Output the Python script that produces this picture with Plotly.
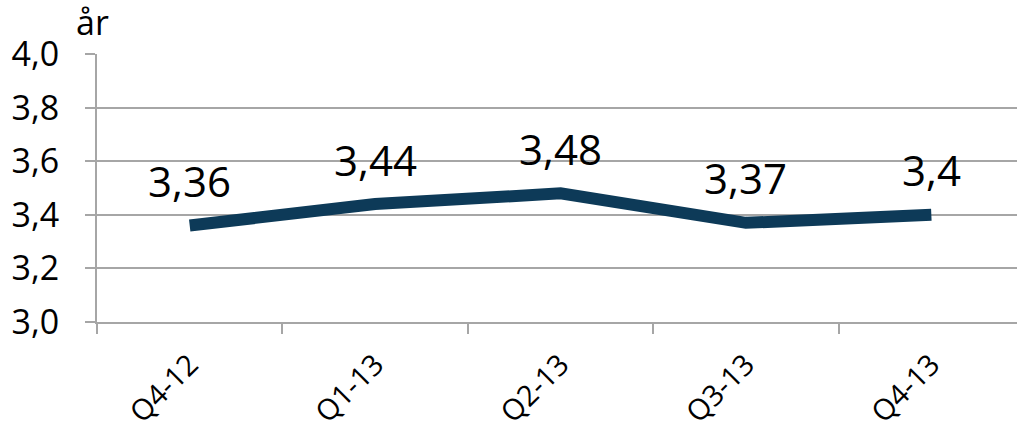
import plotly.graph_objects as go

categories = ["Q4-12", "Q1-13", "Q2-13", "Q3-13", "Q4-13"]
values = [3.36, 3.44, 3.48, 3.37, 3.40]
y_ticks = [3.0, 3.2, 3.4, 3.6, 3.8, 4.0]
unit_label = "år"

FONT = "Open Sans"
GRID = "#A6A6A6"
LINE = "#0D3A58"

W, H = 1017, 435
ML, MR, MT, MB = 97, 0, 54, 113

fig = go.Figure()
fig.add_trace(go.Scatter(
    x=categories, y=values, mode="lines",
    line=dict(color=LINE, width=12),
    hoverinfo="skip", showlegend=False,
))

for c, v in zip(categories, values):
    fig.add_annotation(
        x=c, y=v, xref="x", yref="y",
        text=("%g" % v).replace(".", ","),
        showarrow=False, yshift=45,
        font=dict(family=FONT, size=42, color="#000000"),
    )

# unit label placed in paper coordinates (pixel position converted)
fig.add_annotation(
    x=(74 - ML) / (W - ML - MR), y=1 + (MT - 22) / (H - MT - MB),
    xref="paper", yref="paper", text=unit_label,
    showarrow=False, xanchor="left", yanchor="middle",
    font=dict(family=FONT, size=34, color="#000000"),
)

fig.update_layout(
    width=W, height=H,
    margin=dict(l=ML, r=MR, t=MT, b=MB, pad=0, autoexpand=False),
    paper_bgcolor="white", plot_bgcolor="white",
    separators=", ",
    font=dict(family=FONT, size=34, color="#000000"),
    xaxis=dict(
        type="category", range=[-0.5, 4.462], automargin=False,
        showgrid=False, showline=True, linecolor=GRID, linewidth=2,
        ticks="outside", tickson="boundaries", ticklen=10, tickcolor=GRID, tickwidth=2,
        tickangle=-45, tickfont=dict(family=FONT, size=29), ticklabelstandoff=12,
        zeroline=False,
    ),
    yaxis=dict(
        range=[3.0, 4.0], tickvals=y_ticks, tickformat=".1f", automargin=False,
        showgrid=True, gridcolor=GRID, gridwidth=2,
        showline=True, linecolor=GRID, linewidth=2,
        ticks="outside", ticklen=10, tickcolor=GRID, tickwidth=2,
        tickfont=dict(family=FONT, size=34), ticklabelstandoff=19,
        zeroline=False,
    ),
)

fig.write_html("out.html")
